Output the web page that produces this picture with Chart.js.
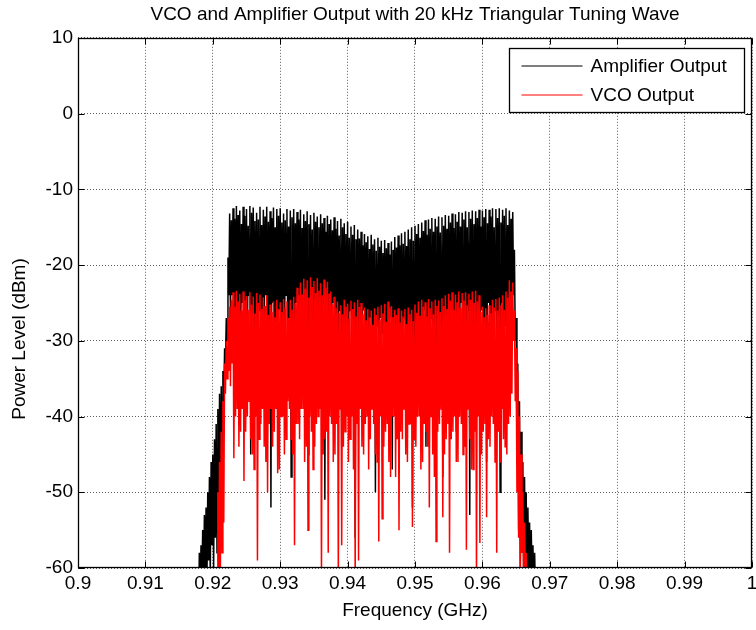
<!DOCTYPE html>
<html>
<head>
<meta charset="utf-8">
<title>VCO and Amplifier Output</title>
<script src="https://cdn.jsdelivr.net/npm/chart.js@4.4.1/dist/chart.umd.min.js"></script>
<style>
  html, body { margin: 0; padding: 0; background: #ffffff; }
  #wrap { width: 756px; height: 630px; }
</style>
</head>
<body>
<div id="wrap"><canvas id="spectrum" width="756" height="630"></canvas></div>
<script>
// Spectrum analyser sweep: one reading every 125 kHz starting at 917.5 MHz
const freqStartGHz = 0.9175;
const freqStepGHz = 0.000125;

// Amplifier output trace (dBm)
const amplifierDbm = [
  // lower band edge
  -72, -66, -61, -67, -58, -64, -57, -62, -55, -63,
  -53, -60, -52, -62, -50, -59, -48, -61, -46, -57,
  -45, -60, -43, -56, -41, -58, -39, -54, -37, -57,
  -36, -52, -34, -38, -31, -33, -27, -30, -19, -24,
  // swept band
  -13.2, -27, -14.1, -24, -12.5, -30, -13.9, -26,
  -12.2, -26, -13.4, -29, -12.8, -33, -14.6, -25,
  -12.3, -28, -13.5, -31, -12.6, -31, -14.8, -24,
  -12.2, -45, -13.1, -27, -12.4, -29, -14.2, -33,
  -13.1, -34, -14.0, -26, -12.3, -27, -14.7, -30,
  -12.7, -30, -13.6, -24, -12.3, -36, -14.3, -28,
  -12.9, -52, -13.8, -25, -12.4, -29, -15.0, -32,
  -12.6, -33, -13.5, -26, -12.5, -28, -14.4, -29,
  -13.2, -35, -14.1, -24, -12.6, -30, -14.9, -27,
  -12.8, -48, -13.7, -31, -12.6, -31, -14.5, -25,
  -13.0, -27, -14.0, -28, -12.7, -34, -15.1, -24,
  -13.3, -29, -14.2, -30, -12.9, -45, -14.6, -26,
  -13.4, -32, -15.3, -28, -13.1, -28, -14.3, -25,
  -13.6, -36, -15.0, -31, -13.3, -30, -14.5, -26,
  -13.8, -51, -15.6, -27, -13.5, -33, -14.6, -29,
  -14.0, -29, -15.4, -25, -13.7, -35, -15.2, -30,
  -14.2, -31, -16.1, -26, -13.9, -44, -15.0, -28,
  -14.5, -30, -15.9, -33, -14.3, -37, -16.4, -26,
  -14.9, -32, -16.0, -29, -14.7, -56, -16.6, -27,
  -15.3, -29, -16.5, -31, -15.6, -34, -17.4, -26,
  -15.9, -31, -17.0, -28, -16.2, -38, -17.9, -27,
  -16.0, -30, -17.3, -32, -16.6, -50, -18.1, -28,
  -16.4, -33, -17.6, -27, -16.8, -29, -18.4, -30,
  -16.7, -36, -17.8, -28, -17.1, -31, -18.6, -27,
  -16.9, -47, -18.0, -33, -16.3, -32, -17.7, -28,
  -16.1, -29, -17.4, -30, -15.8, -39, -17.2, -27,
  -15.6, -31, -17.5, -29, -15.3, -34, -16.6, -28,
  -15.0, -52, -16.8, -31, -14.8, -30, -15.9, -27,
  -14.6, -35, -16.4, -29, -14.4, -29, -15.5, -26,
  -14.1, -44, -16.0, -30, -14.0, -32, -15.2, -27,
  -13.8, -30, -15.6, -28, -13.9, -37, -14.9, -26,
  -13.6, -31, -15.7, -30, -13.7, -48, -14.8, -27,
  -13.4, -29, -15.2, -28, -13.5, -33, -14.4, -26,
  -13.2, -30, -15.1, -31, -13.3, -42, -14.3, -27,
  -13.0, -31, -14.9, -25, -13.1, -35, -14.0, -29,
  -12.9, -29, -15.0, -26, -13.0, -53, -13.9, -28,
  -12.8, -32, -14.6, -25, -12.9, -30, -13.8, -30,
  -12.7, -36, -14.9, -26, -12.8, -31, -13.7, -28,
  -12.6, -46, -14.5, -25, -12.7, -30, -13.6, -29,
  -12.5, -34, -15.0, -26, -12.6, -29, -13.8, -31,
  -12.5, -50, -14.4, -25, -12.7, -31, -13.5, -28,
  -12.5, -33, -14.7, -26, -12.8, -29, -13.9, -27,
  // upper band edge
  -13.0, -24, -18, -30, -27, -45, -33, -55, -38, -60,
  -42, -58, -46, -62, -48, -60, -50, -64, -52, -61,
  -54, -63, -55, -62, -57, -65, -58, -63, -60, -67,
  -62, -70
];

// VCO output trace (dBm); null where the sweep has no VCO reading
const vcoDbm = [
  null, null, null, null, null, null, null, null, null, null,
  null, null, null, null, null, null, null, null, null, null,
  null, null,
  // lower band edge
  -75, -70, -62, -66, -50, -63, -46, -60, -42, -58,
  -38, -54, -33, -37, -30, -35, -27, -34, -25.5, -36,
  -24.6, -33,
  // swept band
  -23.6, -45.5, -25.5, -40, -23.4, -39, -24.8, -44,
  -23.8, -42, -26.0, -39, -23.5, -48.5, -24.7, -42,
  -24.1, -40, -25.9, -38, -23.6, -43, -25.2, -45,
  -24.2, -47, -26.4, -40, -23.7, -59, -25.0, -43,
  -23.9, -41, -25.8, -39, -24.3, -44, -25.4, -46,
  -24.0, -50, -26.6, -41, -25.2, -39, -26.2, -44,
  -24.8, -42, -26.9, -39, -24.6, -47.5, -25.8, -47,
  -24.9, -40, -26.2, -40, -24.5, -45, -25.6, -43,
  -24.8, -38, -27.0, -39, -24.6, -43, -25.9, -45,
  -24.2, -57, -25.1, -41, -23.0, -41, -24.0, -43,
  -22.3, -39, -23.9, -39, -21.8, -46, -23.1, -44,
  -22.0, -55, -24.3, -40, -21.6, -42, -22.9, -47,
  -22.1, -44, -23.7, -41, -21.7, -40, -23.4, -39,
  -22.4, -62, -24.0, -45, -21.9, -43, -23.0, -42,
  -22.2, -58, -23.8, -40, -23.5, -41, -25.2, -46,
  -24.2, -45, -25.7, -41, -24.8, -62, -26.3, -39,
  -25.3, -57, -26.5, -44, -24.6, -42, -25.5, -40,
  -25.1, -46, -27.1, -43, -24.7, -40, -25.8, -47,
  -24.9, -62, -26.8, -41, -24.6, -59, -25.5, -39,
  -25.0, -44, -26.5, -45, -25.6, -41, -27.3, -40,
  -25.8, -47, -26.9, -43, -26.0, -39, -27.9, -41,
  -25.7, -45, -26.6, -46, -25.5, -56.5, -27.2, -40,
  -25.3, -53.5, -26.4, -44, -25.1, -42, -27.5, -41,
  -24.8, -46, -25.6, -48, -25.4, -40, -26.9, -40,
  -25.9, -48, -26.6, -43, -25.7, -55, -27.6, -42,
  -26.0, -43, -26.8, -39, -25.8, -45, -27.8, -46,
  -25.6, -41, -26.5, -41, -25.9, -54.6, -27.4, -43,
  -25.2, -44, -26.3, -40, -24.8, -40, -26.7, -47,
  -24.6, -46, -25.5, -41, -24.9, -42, -26.8, -44,
  -24.5, -52, -25.7, -40, -24.8, -45, -26.5, -48,
  -24.6, -56.5, -25.4, -42, -24.7, -41, -26.2, -39,
  -24.4, -53.3, -25.4, -45, -24.0, -43, -25.8, -41,
  -23.8, -58, -24.7, -43, -23.6, -42, -25.9, -40,
  -23.9, -46, -24.9, -46, -23.5, -40, -25.6, -41,
  -23.7, -45, -24.7, -44, -23.6, -57.6, -25.3, -39,
  -23.8, -43, -24.6, -47, -23.5, -47, -25.0, -42,
  -23.4, -62, -24.8, -40, -24.0, -56.7, -26.2, -45,
  -25.5, -42, -26.9, -41, -25.7, -53.3, -26.6, -43,
  -25.3, -44, -26.4, -40, -24.6, -41, -25.6, -46,
  -24.5, -58, -26.0, -42, -24.3, -46, -25.3, -39,
  -24.0, -43, -25.9, -44, -23.5, -45, -24.3, -41,
  -22.0, -40, -23.5, -37,
  // upper band edge
  -22.3, -30, -26, -38, -31, -50, -34, -56, -40, -60,
  -45, -58, -50, -63, -54, -61, -58, -65, -62, -68,
  -72
];

const seriesNames = ['Amplifier Output', 'VCO Output'];
const seriesColors = ['#000000', '#ff0000'];

const xTickValues = [0.9, 0.91, 0.92, 0.93, 0.94, 0.95, 0.96, 0.97, 0.98, 0.99, 1.0];
const xTickLabels = ['0.9', '0.91', '0.92', '0.93', '0.94', '0.95', '0.96', '0.97', '0.98', '0.99', '1'];
const yTickValues = [-60, -50, -40, -30, -20, -10, 0, 10];
const yTickLabels = ['-60', '-50', '-40', '-30', '-20', '-10', '0', '10'];

const chartTitle = 'VCO and Amplifier Output with 20 kHz Triangular Tuning Wave';
const xAxisTitle = 'Frequency (GHz)';
const yAxisTitle = 'Power Level (dBm)';

const FONT_FAMILY = '"Liberation Sans", Arial, Helvetica, sans-serif';
const FONT_SIZE = 19;

function toPoints(values) {
  return values.map((v, i) => ({ x: freqStartGHz + i * freqStepGHz, y: v }));
}

// Box, inward tick marks, legend and rotated y label drawn in the axes style
const axesFrame = {
  id: 'axesFrame',
  afterDatasetsDraw(chart) {
    const { ctx, chartArea: a, scales } = chart;
    const xs = scales.x, ys = scales.y;
    const L = Math.round(a.left) + 0.5, R = Math.round(a.right) - 0.5;
    const T = Math.round(a.top) + 0.5, B = Math.round(a.bottom) - 0.5;
    const tick = 6;
    ctx.save();
    ctx.strokeStyle = '#000';
    ctx.lineWidth = 1;
    ctx.setLineDash([]);
    ctx.beginPath();
    xTickValues.forEach(v => {
      const px = Math.round(xs.getPixelForValue(v)) + 0.5;
      ctx.moveTo(px, B); ctx.lineTo(px, B - tick);
      ctx.moveTo(px, T); ctx.lineTo(px, T + tick);
    });
    yTickValues.forEach(v => {
      const py = Math.round(ys.getPixelForValue(v)) + 0.5;
      ctx.moveTo(L, py); ctx.lineTo(L + tick, py);
      ctx.moveTo(R, py); ctx.lineTo(R - tick, py);
    });
    ctx.stroke();
    ctx.lineWidth = 1.3;
    ctx.strokeRect(L, T, R - L, B - T);

    // legend
    const lx = 509.5, ly = 48.5, lw = 235, lh = 64;
    ctx.fillStyle = '#fff';
    ctx.fillRect(lx, ly, lw, lh);
    ctx.lineWidth = 1.3;
    ctx.strokeStyle = '#000';
    ctx.strokeRect(lx, ly, lw, lh);
    ctx.font = FONT_SIZE + 'px ' + FONT_FAMILY;
    ctx.textAlign = 'left';
    ctx.textBaseline = 'middle';
    seriesNames.forEach((name, k) => {
      const yy = Math.round(ly + 17 + k * 29);
      ctx.strokeStyle = seriesColors[k];
      ctx.lineWidth = 1.2;
      ctx.beginPath();
      ctx.moveTo(lx + 12, yy); ctx.lineTo(lx + 73, yy);
      ctx.stroke();
      ctx.fillStyle = '#000';
      ctx.fillText(name, lx + 81, yy + 1);
    });

    // y-axis label
    ctx.translate(20, 339);
    ctx.rotate(-Math.PI / 2);
    ctx.textAlign = 'center';
    ctx.textBaseline = 'middle';
    ctx.fillStyle = '#000';
    ctx.fillText(yAxisTitle, 0, 0);
    ctx.restore();
  }
};

const tickFont = { family: FONT_FAMILY, size: FONT_SIZE };

new Chart(document.getElementById('spectrum'), {
  type: 'line',
  data: {
    datasets: [
      {
        label: seriesNames[0],
        data: toPoints(amplifierDbm),
        borderColor: seriesColors[0],
        borderWidth: 1.5,
        pointRadius: 0,
        tension: 0,
        fill: false,
        spanGaps: false,
        clip: 0,
        order: 1
      },
      {
        label: seriesNames[1],
        data: toPoints(vcoDbm),
        borderColor: seriesColors[1],
        borderWidth: 1.5,
        pointRadius: 0,
        tension: 0,
        fill: false,
        spanGaps: false,
        clip: 0,
        order: 0
      }
    ]
  },
  options: {
    responsive: false,
    animation: false,
    devicePixelRatio: 1,
    layout: { padding: { left: 0, right: 0, top: 0, bottom: 0 } },
    plugins: {
      legend: { display: false },
      tooltip: { enabled: false },
      title: {
        display: true,
        text: chartTitle,
        fullSize: false,
        color: '#000',
        font: { family: FONT_FAMILY, size: FONT_SIZE, weight: 'normal' },
        padding: { top: 3, bottom: 12 }
      }
    },
    scales: {
      x: {
        type: 'linear',
        min: 0.9,
        max: 1.0,
        afterBuildTicks(scale) { scale.ticks = xTickValues.map(v => ({ value: v })); },
        afterFit(scale) { scale.height = 62; scale.paddingRight = 4; scale.paddingLeft = 0; },
        ticks: {
          autoSkip: false,
          maxRotation: 0,
          color: '#000',
          font: tickFont,
          padding: 4,
          callback: (v, i) => xTickLabels[i]
        },
        grid: { color: '#5e5e5e', lineWidth: 1, drawTicks: false },
        border: { display: false, dash: [1, 2] },
        title: {
          display: true,
          text: xAxisTitle,
          color: '#000',
          font: tickFont,
          padding: { top: 0, bottom: 8 }
        }
      },
      y: {
        type: 'linear',
        min: -60,
        max: 10,
        afterBuildTicks(scale) { scale.ticks = yTickValues.map(v => ({ value: v })); },
        afterFit(scale) { scale.width = 78; },
        ticks: {
          autoSkip: false,
          color: '#000',
          font: tickFont,
          padding: 5,
          callback: (v, i) => yTickLabels[i]
        },
        grid: { color: '#5e5e5e', lineWidth: 1, drawTicks: false },
        border: { display: false, dash: [1, 2] }
      }
    }
  },
  plugins: [axesFrame]
});
</script>
</body>
</html>
